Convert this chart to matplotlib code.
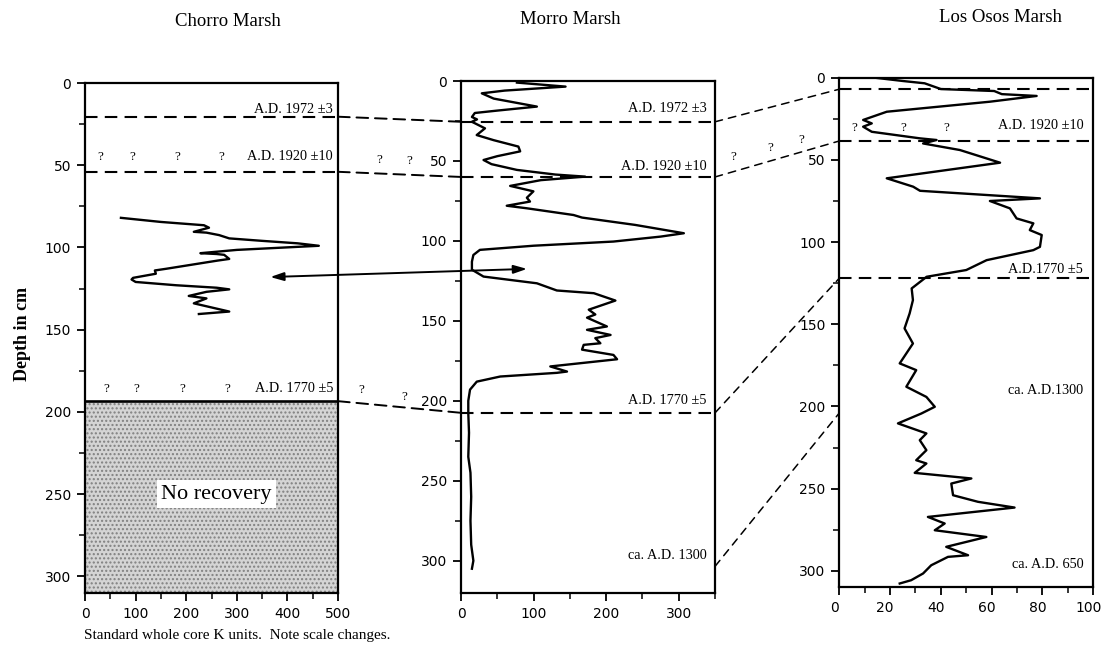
import matplotlib.pyplot as plt
import matplotlib.transforms as mtransforms
from matplotlib.patches import ConnectionPatch
from matplotlib.ticker import MultipleLocator

# Magnetic susceptibility (K units) against depth (cm)
chorro_k = [71, 150, 235, 245, 215, 240, 265, 285, 350, 420, 462, 300, 228, 260, 275,
            285, 262, 160, 138, 140, 95, 92, 100, 180, 260, 285, 240, 205, 240, 215,
            285, 225]
chorro_depth = [82, 84.5, 86.5, 88, 90.5, 91, 92.5, 94.5, 96, 97.5, 99, 101.5, 103.5, 104, 104.5,
                107, 108, 113, 114, 116, 118.5, 119.5, 121, 123, 124.5, 125.5, 127, 129.5, 131, 134,
                139, 140.5]

morro_k = [77, 144, 60, 28.6, 45, 104.5, 50, 19, 15, 22, 15, 33, 21.6, 45, 79, 81.5, 50, 31,
           42, 77, 130, 171, 110, 67.7, 99.7, 90.7, 95, 63, 90.7, 155, 166.7, 240, 307, 275,
           210, 100, 26, 17, 15, 15, 31, 104.5, 132, 183, 212.7, 176, 185, 173.6, 201, 173.6,
           206, 185, 192, 169, 166.7, 210, 215, 123, 146, 132, 54, 21.7, 12.4, 10, 10, 11,
           10, 13, 14, 13, 14, 17, 15]
morro_depth = [1, 3.5, 6, 7.7, 11, 16, 18.5, 20, 22.5, 24, 25.5, 29.6, 33.8, 37, 41, 44, 47, 49.4,
               52, 55.6, 58.5, 59.8, 62, 65.6, 69, 73, 75.4, 78, 79.6, 83.8, 85.4, 90, 95.2, 97.3,
               100.4, 103, 105.6, 108.8, 113, 118, 122.3, 126.5, 131, 132.7, 137.3, 143, 146, 148, 153.5, 155.6,
               158.8, 160.8, 164, 165, 168, 171.3, 174, 178.5, 181.7, 182.5, 184.8, 188, 193, 200, 207.7, 220,
               235, 245, 260, 275, 290, 300, 305]

osos_k = [14, 25, 33.6, 40, 61, 64, 77.7, 59.3, 18.7, 9.4, 12.8, 9.4, 12.8, 31.8, 38.3, 33,
          47.5, 63.3, 18.7, 29.1, 31.8, 79, 59.3, 67.2, 69.8, 76.4, 75, 79.7, 79, 76.4, 58,
          50, 34.4, 28.5, 29, 27.7, 25.7, 29, 23.8, 30.3, 26.4, 34.3, 37.6, 32.3, 23.1, 34.3,
          31.7, 34.3, 30.3, 34.3, 29.7, 52, 44.1, 44.8, 54.6, 69, 34.9, 41.5, 37.6, 57.9, 42.1,
          50.7, 42.8, 36.2, 33, 28.3, 23.8]
osos_depth = [0, 2, 3.4, 6.9, 8.1, 10, 11.1, 14.6, 20.7, 25.7, 27.8, 29.8, 32.9, 36.9, 37.9, 40,
              44, 51.7, 61.2, 66.3, 68.8, 73.4, 75, 79.5, 85.6, 88.6, 92.7, 95.7, 102.9, 104.9, 111,
              117, 121.1, 128.2, 135.3, 143.4, 152.5, 161.7, 173.8, 177.9, 188, 194.2, 200.2, 204.3, 210.3, 216.4,
              220.5, 226.6, 232.7, 234.7, 240.4, 243.8, 246.9, 254, 258, 261.5, 267.2, 271.2, 275.3, 279.4, 285.4,
              290.5, 291.5, 296.6, 301.6, 305.7, 307.7]

# depth of each dated horizon in each core
chorro_horizons = {'1972': 20.5, '1920': 54, '1770': 193.5}
morro_horizons = {'1972': 25.5, '1920': 60, '1770': 207.5, '1300': 303.5}
osos_horizons = {'1972': 7, '1920': 38.5, '1770': 122, '1300': 204}

serif = 'Liberation Serif'
ann = 10.3

fig = plt.figure(figsize=(11.04, 6.47), dpi=100)
ax1 = fig.add_axes([0.0770, 0.0839, 0.2292, 0.7878])
ax2 = fig.add_axes([0.4176, 0.0839, 0.2301, 0.7909])
ax3 = fig.add_axes([0.7602, 0.0923, 0.2301, 0.7876])

setup = [(ax1, 500, 310, 100, 50), (ax2, 350, 320, 100, 50), (ax3, 100, 310, 20, 10)]
for ax, xmax, ymax, xmaj, xmin in setup:
    ax.set_xlim(0, xmax)
    ax.set_ylim(ymax, 0)
    ax.xaxis.set_major_locator(MultipleLocator(xmaj))
    ax.xaxis.set_minor_locator(MultipleLocator(xmin))
    ax.yaxis.set_major_locator(MultipleLocator(50))
    ax.yaxis.set_minor_locator(MultipleLocator(25))
    ax.tick_params(which='major', direction='out', length=6, width=1.3, labelsize=10, pad=4)
    ax.tick_params(which='minor', direction='out', length=4, width=1.1)
    for s in ax.spines.values():
        s.set_linewidth(1.6)

# the x tick labels of the last core sit a little to the left in the original
shift = mtransforms.ScaledTranslation(-5 / 100, 0, fig.dpi_scale_trans)
for lab in ax3.get_xticklabels():
    lab.set_transform(lab.get_transform() + shift)

dash = dict(color='black', lw=1.5, linestyle=(0, (6, 3.5)))

# Chorro Marsh
ax1.plot(chorro_k, chorro_depth, color='black', lw=1.7)
ax1.axhline(chorro_horizons['1972'], **dash)
ax1.axhline(chorro_horizons['1920'], **dash)
ax1.axhline(chorro_horizons['1770'], color='black', lw=1.9)
ax1.fill_between([0, 500], chorro_horizons['1770'], 310, facecolor='#d4d4d4',
                 hatch='....', edgecolor='#808080', linewidth=0)
ax1.text(259, 250, 'No recovery', family=serif, fontsize=16, ha='center', va='center',
         bbox=dict(facecolor='white', edgecolor='none', pad=3))
ax1.text(490, 16, 'A.D. 1972 \u00b13', family=serif, fontsize=ann, ha='right', va='center')
ax1.text(490, 45, 'A.D. 1920 \u00b110', family=serif, fontsize=ann, ha='right', va='center')
ax1.text(490, 186, 'A.D. 1770 \u00b15', family=serif, fontsize=ann, ha='right', va='center')
for qx in [30, 94, 183, 270]:
    ax1.text(qx, 45, '?', family=serif, fontsize=9.5, ha='center', va='center')
for qx in [41, 102, 193, 282]:
    ax1.text(qx, 186, '?', family=serif, fontsize=9.5, ha='center', va='center')

# Morro Marsh
ax2.plot(morro_k, morro_depth, color='black', lw=1.7)
ax2.axhline(morro_horizons['1972'], **dash)
ax2.axhline(morro_horizons['1920'], **dash)
ax2.axhline(morro_horizons['1770'], **dash)
ax2.text(338, 17.5, 'A.D. 1972 \u00b13', family=serif, fontsize=ann, ha='right', va='center')
ax2.text(338, 53.5, 'A.D. 1920 \u00b110', family=serif, fontsize=ann, ha='right', va='center')
ax2.text(338, 200, 'A.D. 1770 \u00b15', family=serif, fontsize=ann, ha='right', va='center')
ax2.text(338, 297, 'ca. A.D. 1300', family=serif, fontsize=ann, ha='right', va='center')

# Los Osos Marsh
ax3.plot(osos_k, osos_depth, color='black', lw=1.7)
ax3.axhline(osos_horizons['1972'], **dash)
ax3.axhline(osos_horizons['1920'], **dash)
ax3.axhline(osos_horizons['1770'], **dash)
ax3.text(96, 28.8, 'A.D. 1920 \u00b110', family=serif, fontsize=ann, ha='right', va='center')
ax3.text(96, 116.6, 'A.D.1770 \u00b15', family=serif, fontsize=ann, ha='right', va='center')
ax3.text(96, 190.5, 'ca. A.D.1300', family=serif, fontsize=ann, ha='right', va='center')
ax3.text(96, 296, 'ca. A.D. 650', family=serif, fontsize=ann, ha='right', va='center')
for qx in [5.8, 25, 42.3]:
    ax3.text(qx, 30.8, '?', family=serif, fontsize=9.5, ha='center', va='center')

# correlation lines between cores
for key in ['1972', '1920', '1770']:
    con = ConnectionPatch(xyA=(500, chorro_horizons[key]), coordsA=ax1.transData,
                          xyB=(0, morro_horizons[key]), coordsB=ax2.transData,
                          color='black', lw=1.4, linestyle=(0, (6, 3.5)))
    fig.add_artist(con)
for key in ['1972', '1920', '1770', '1300']:
    con = ConnectionPatch(xyA=(350, morro_horizons[key]), coordsA=ax2.transData,
                          xyB=(0, osos_horizons[key]), coordsB=ax3.transData,
                          color='black', lw=1.1, linestyle=(0, (5, 4)))
    fig.add_artist(con)

# question marks in the gaps
for qx, qy in [(379, 160), (409, 161), (361.7, 390), (404, 396.7),
               (733, 156.7), (770, 148), (801.7, 140)]:
    fig.text(qx / 1104, 1 - qy / 647, '?', family=serif, fontsize=9.5, ha='center', va='center')

# arrow tying the two peaks
arrow = ConnectionPatch(xyA=(366, 118), coordsA=ax1.transData,
                        xyB=(91, 117.5), coordsB=ax2.transData,
                        arrowstyle='<|-|>,head_length=0.8,head_width=0.25',
                        color='black', lw=1.4, mutation_scale=10)
fig.add_artist(arrow)

fig.text(228 / 1104, 1 - 22 / 647, 'Chorro Marsh', family=serif, fontsize=13.5, ha='center', va='center')
fig.text(570 / 1104, 1 - 20 / 647, 'Morro Marsh', family=serif, fontsize=13.5, ha='center', va='center')
fig.text(1000 / 1104, 1 - 18 / 647, 'Los Osos Marsh', family=serif, fontsize=13.5, ha='center', va='center')
fig.text(23 / 1104, 1 - 334 / 647, 'Depth in cm', family=serif, fontsize=13, fontweight='bold',
         rotation=90, ha='center', va='center')
fig.text(84 / 1104, 1 - 636 / 647, 'Standard whole core K units.  Note scale changes.',
         family=serif, fontsize=11, ha='left', va='center')

fig.savefig('out.png', dpi=100)
